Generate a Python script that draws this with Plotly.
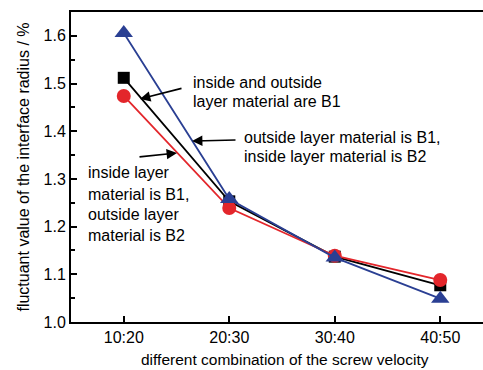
import plotly.graph_objects as go

categories = ["10:20", "20:30", "30:40", "40:50"]
both_b1 = [1.512, 1.253, 1.137, 1.077]
in_b1_out_b2 = [1.474, 1.239, 1.139, 1.088]
out_b1_in_b2 = [1.606, 1.258, 1.135, 1.049]
y_ticks = [1.0, 1.1, 1.2, 1.3, 1.4, 1.5, 1.6]

W, H = 483, 370
L, R, T, B = 71, 0, 12, 48
FONT = "Liberation Sans Narrow, Arial Narrow, Liberation Sans, Arial"
BLUE = "#2a3f93"
RED = "#e3262b"

def px(x):
    return (x - L) / (W - L - R)

def py(y):
    return (H - B - y) / (H - T - B)

xi = list(range(len(categories)))

fig = go.Figure()
fig.add_trace(go.Scatter(x=xi, y=both_b1, mode="lines+markers",
                         line=dict(color="black", width=1.8),
                         marker=dict(symbol="square", size=12, color="black")))
fig.add_trace(go.Scatter(x=xi, y=in_b1_out_b2, mode="lines+markers",
                         line=dict(color=RED, width=1.8),
                         marker=dict(symbol="circle", size=14, color=RED)))
fig.add_trace(go.Scatter(x=xi, y=out_b1_in_b2, mode="lines+markers",
                         line=dict(color=BLUE, width=1.8),
                         marker=dict(symbol="triangle-up", size=16, color=BLUE)))

fig.update_layout(
    width=W, height=H,
    margin=dict(l=L, r=R, t=T, b=B),
    paper_bgcolor="white", plot_bgcolor="white",
    showlegend=False,
    font=dict(family=FONT, size=16, color="black"),
    xaxis=dict(range=[-0.5, 3.405], tickvals=xi, ticktext=categories,
               showline=True, linecolor="black", linewidth=2, mirror=True,
               ticks="inside", ticklen=6, tickwidth=1.5, tickcolor="black",
               showgrid=False, zeroline=False, tickfont=dict(size=16)),
    yaxis=dict(range=[1.0, 1.65], tickvals=y_ticks,
               ticktext=[f"{v:.1f}" for v in y_ticks],
               showline=True, linecolor="black", linewidth=2, mirror=False,
               ticks="inside", ticklen=6, tickwidth=1.5, tickcolor="black",
               minor=dict(dtick=0.05, ticks="inside", ticklen=4, tickwidth=1.5, tickcolor="black"),
               showgrid=False, zeroline=False, tickfont=dict(size=16),
               title=dict(text="fluctuant value of the interface radius / %",
                          font=dict(size=16), standoff=10)),
)

def line_text(text, x, baseline, size=16):
    fig.add_annotation(text=text, xref="paper", yref="paper",
                       x=px(x), y=py(baseline - 5), xanchor="left", yanchor="middle",
                       showarrow=False, font=dict(size=size))

def arrow(x0, y0, x1, y1):
    fig.add_annotation(text="", xref="paper", yref="paper",
                       x=px(x1), y=py(y1), ax=x0 - x1, ay=y0 - y1,
                       showarrow=True, arrowhead=2, arrowsize=1.3,
                       arrowwidth=1.6, arrowcolor="black")

line_text("inside and outside", 191, 87)
line_text("layer material are B1", 191, 107)
line_text("outside layer material is B1,", 242, 142)
line_text("inside layer material is B2", 242, 161)
line_text("inside layer", 86, 177)
line_text("material is B1,", 86, 199)
line_text("outside layer", 86, 219)
line_text("material is B2", 86, 240)

arrow(183, 88, 140, 99)
arrow(237, 140, 192, 141)
arrow(138, 157, 177, 153)

fig.add_annotation(text="different combination of the screw velocity",
                   xref="paper", yref="paper", x=px(285), y=py(359),
                   xanchor="center", yanchor="middle", showarrow=False,
                   font=dict(size=15.5))

fig.write_html("out.html")
